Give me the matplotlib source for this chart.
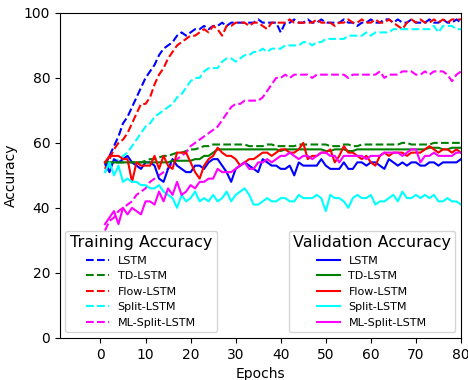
import matplotlib
matplotlib.use("Agg")
import matplotlib.pyplot as plt
import numpy as np

epochs = list(range(1, 81))
models = ["LSTM", "TD-LSTM", "Flow-LSTM", "Split-LSTM", "ML-Split-LSTM"]
colors = ["#0000ff", "#008000", "#ff0000", "#00ffff", "#ff00ff"]

train_lstm = [53, 56, 59, 62, 66, 68, 71, 74, 77, 80,
              82, 84, 87, 89, 90, 91, 93, 94, 93, 94,
              95, 95, 96, 95, 96, 96, 97, 96, 97, 97,
              97, 97, 97, 97, 98, 97, 97, 97, 97, 94,
              97, 97, 98, 97, 97, 98, 97, 97, 98, 97,
              97, 97, 97, 98, 97, 97, 96, 97, 97, 98,
              97, 97, 98, 98, 97, 98, 97, 97, 98, 97,
              97, 97, 98, 97, 97, 98, 97, 97, 98, 97]
train_td = [54, 54, 54, 54, 54, 54, 54, 54, 54, 54.5,
            55, 55, 55.5, 56, 56, 56.5, 57, 57, 57.5, 58,
            58, 58.5, 59, 59, 59.5, 59.5, 59.5, 59.5, 59.5, 59.5,
            59.5, 59.5, 59, 59, 59, 59, 59.5, 59.5, 59, 59,
            59, 59, 59, 59.5, 59.5, 59.5, 59.5, 59.5, 59.5, 59.5,
            59, 59, 59, 59.5, 59.5, 59, 59, 59.5, 59.5, 59.5,
            59.5, 59.5, 59.5, 59.5, 59.5, 59.5, 60, 60, 59.5, 59.5,
            59.5, 59.5, 59.5, 60, 60, 60, 60, 60, 60, 60]
train_flow = [52, 55, 58, 60, 61, 63, 66, 69, 72, 72,
              74, 78, 81, 83, 86, 88, 90, 91, 92, 93,
              93, 94, 95, 94, 96, 95, 93, 96, 96, 97,
              97, 97, 96, 97, 97, 96, 95, 97, 97, 97,
              97, 98, 97, 97, 97, 97, 97, 98, 97, 97,
              97, 96, 97, 97, 98, 97, 97, 98, 97, 97,
              98, 97, 97, 98, 97, 96, 95, 97, 98, 97,
              98, 97, 97, 98, 97, 98, 97, 98, 98, 98]
train_split = [51, 53, 54, 55, 56, 57, 59, 61, 63, 65,
               66, 68, 69, 70, 71, 72, 74, 75, 77, 79,
               80, 80, 82, 83, 83, 83, 85, 86, 86, 85,
               86, 87, 87, 88, 88, 89, 88, 89, 89, 89,
               90, 90, 90, 90, 91, 91, 90, 91, 91, 92,
               92, 92, 92, 92, 93, 93, 93, 93, 94, 93,
               94, 94, 94, 94, 95, 95, 95, 95, 95, 95,
               95, 95, 95, 96, 94, 96, 96, 96, 95, 95]
train_mlsplit = [33, 36, 37, 39, 40, 41, 42, 44, 45, 46,
                 48, 49, 50, 51, 52, 54, 55, 56, 57, 59,
                 60, 61, 62, 63, 64, 65, 67, 69, 71, 72,
                 72, 73, 73, 73, 73, 74, 76, 78, 80, 80,
                 81, 80, 81, 81, 81, 81, 80, 81, 81, 81,
                 81, 81, 81, 81, 80, 81, 81, 81, 81, 81,
                 81, 82, 80, 81, 81, 81, 82, 82, 82, 81,
                 81, 82, 81, 82, 82, 82, 81, 79, 81, 82]

val_lstm = [54, 51, 55, 54, 55, 56, 54, 53, 52, 54,
            54, 53, 49, 48, 52, 55, 53, 52, 51, 51,
            53, 53, 52, 54, 55, 55, 53, 51, 48, 52,
            53, 54, 53, 52, 51, 55, 54, 53, 53, 52,
            52, 53, 50, 54, 53, 53, 53, 53, 55, 53,
            52, 52, 52, 54, 52, 52, 54, 54, 53, 54,
            54, 53, 52, 55, 54, 53, 54, 53, 54, 54,
            53, 53, 54, 54, 53, 54, 54, 54, 54, 55]
val_td = [54, 54, 54, 54, 54, 54, 54, 54, 54, 54,
          54, 54, 54, 54, 54, 54.5, 54.5, 54.5, 54.5, 54.5,
          55, 55, 56, 56, 57, 58, 58, 58, 58, 58,
          58, 58, 58, 58, 58, 58, 58, 58, 58, 57.5,
          58, 58, 58, 58, 58, 58, 58, 58, 58, 57.5,
          57.5, 58, 58, 58, 57.5, 57.5, 58, 58, 58, 58,
          58, 58, 58, 58, 58, 58, 58, 58, 58, 58,
          58, 58, 58.5, 58.5, 58.5, 58, 58, 58.5, 58.5, 58.5]
val_flow = [54, 56, 56, 56, 55, 55, 48, 54, 53, 53,
            53, 56, 52, 56, 53, 52, 57, 57, 57, 54,
            51, 49, 53, 55, 56, 58.5, 57, 56, 56, 55,
            53, 54, 55, 55, 56, 57, 57, 56, 57, 58,
            58, 57, 57, 58, 60, 55, 56, 56, 57, 57,
            58, 54, 56, 59, 57, 57, 56, 55, 56, 54,
            53, 56, 57, 56, 57, 57, 57, 56, 57, 57,
            57, 58, 59, 58, 57, 58, 58, 57, 58, 57]
val_split = [51, 54, 50, 53, 48, 49, 48, 48, 47, 47,
             46, 46, 47, 45, 44, 43, 40, 44, 42, 43,
             45, 42, 43, 42, 44, 42, 43, 45, 42, 44,
             45, 46, 44, 41, 41, 42, 43, 42, 42, 43,
             43, 42, 42, 44, 43, 43, 43, 44, 43, 39,
             44, 43, 43, 42, 40, 43, 44, 43, 43, 44,
             41, 42, 42, 43, 44, 42, 45, 43, 43, 44,
             43, 44, 43, 44, 42, 42, 43, 42, 42, 41]
val_mlsplit = [35, 37, 39, 35, 40, 38, 40, 39, 38, 42,
               42, 41, 45, 42, 46, 44, 48, 44, 45, 47,
               46, 48, 48, 49, 49, 52, 51, 51, 51, 52,
               53, 54, 52, 52, 54, 54, 55, 54, 55, 56,
               56, 57, 56, 55, 56, 56, 55, 56, 57, 57,
               56, 56, 54, 56, 56, 56, 56, 56, 55, 56,
               56, 56, 57, 57, 57, 57, 56, 57, 58, 58,
               54, 56, 56, 57, 56, 56, 56, 56, 57, 57]

train = [train_lstm, train_td, train_flow, train_split, train_mlsplit]
val = [val_lstm, val_td, val_flow, val_split, val_mlsplit]

fig = plt.figure(figsize=(4.68, 3.8), dpi=100)
ax = fig.add_axes([0.128, 0.111, 0.857, 0.855])

tr_handles = []
va_handles = []
for name, c, t in zip(models, colors, train):
    h, = ax.plot(epochs, t, "--", color=c, lw=1.5, label=name)
    tr_handles.append(h)
for name, c, v in zip(models, colors, val):
    h, = ax.plot(epochs, v, "-", color=c, lw=1.5, label=name)
    va_handles.append(h)

ax.set_xlim(-9, 80)
ax.set_ylim(0, 100)
ax.set_xticks([0, 10, 20, 30, 40, 50, 60, 70, 80])
ax.set_yticks([0, 20, 40, 60, 80, 100])
ax.set_xlabel("Epochs")
ax.set_ylabel("Accuracy")

leg1 = ax.legend(handles=tr_handles, title="Training Accuracy", loc="lower left",
                 fontsize=8, title_fontsize=11.5, handlelength=2.0)
ax.add_artist(leg1)
leg2 = ax.legend(handles=va_handles, title="Validation Accuracy", loc="lower right",
                 fontsize=8, title_fontsize=11.5, handlelength=2.0)

fig.savefig("out.png", dpi=100)
